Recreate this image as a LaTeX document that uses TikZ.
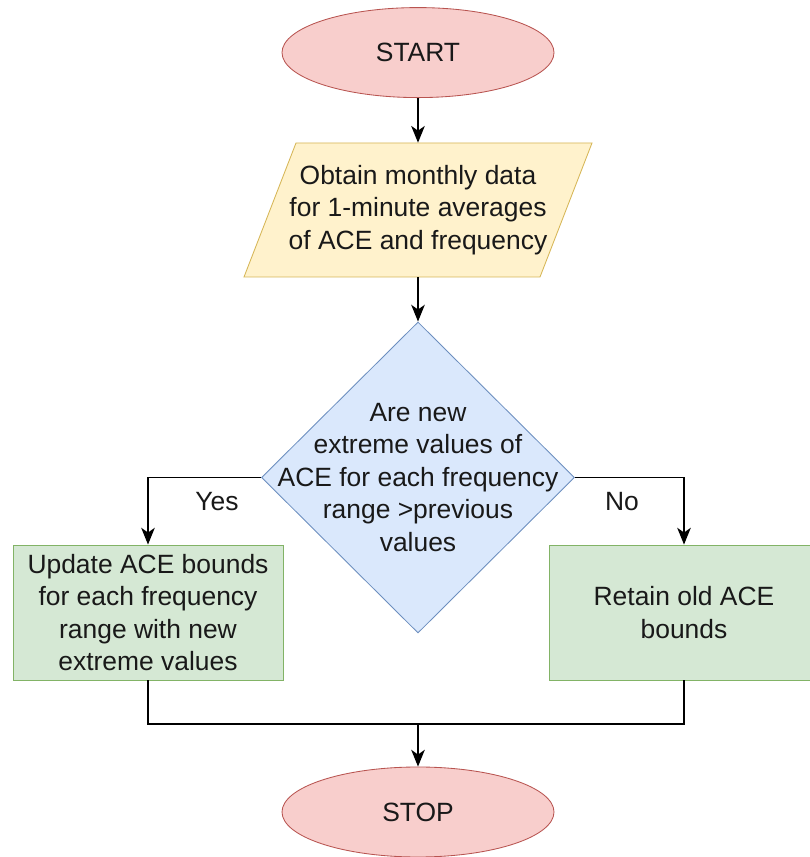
\documentclass[tikz,border=0pt]{standalone}
\usepackage{fontspec}
\setmainfont{Liberation Sans}
\usetikzlibrary{shapes.geometric,arrows.meta}
\definecolor{termfill}{HTML}{F8CECC}
\definecolor{termline}{HTML}{B85450}
\definecolor{iofill}{HTML}{FFF2CC}
\definecolor{ioline}{HTML}{D6B656}
\definecolor{askfill}{HTML}{DAE8FC}
\definecolor{askline}{HTML}{6C8EBF}
\definecolor{procfill}{HTML}{D5E8D4}
\definecolor{procline}{HTML}{82B366}

\begin{document}
\begin{tikzpicture}[
  font=\fontsize{18.8}{23.1}\selectfont,
  txt/.style={text=black!90, align=center},
  terminal/.style={ellipse, draw=termline, fill=termfill, line width=0.6pt,
    minimum width=6.8cm, minimum height=2.25cm, inner sep=0pt, txt},
  process/.style={rectangle, draw=procline, fill=procfill, line width=0.6pt,
    minimum width=6.75cm, minimum height=3.375cm, inner sep=0pt, txt},
  flow/.style={line width=1pt, -{Stealth[length=0.42cm,width=0.34cm,inset=0.12cm]}},
  link/.style={line width=1pt}
]
\useasboundingbox[fill=white] (0,0) rectangle (20.225,21.425);

\node[terminal] (start) at (10.45,20.11) {START};

% input step
\draw[draw=ioline, fill=iofill, line width=0.6pt] (7.4,17.85) -- (14.8,17.85) -- (13.5,14.5) -- (6.1,14.5) -- cycle;
\node[txt, minimum width=7.4cm, minimum height=3.35cm, inner sep=0pt] (obtain) at (10.45,16.175)
  {Obtain monthly data\\for 1-minute averages\\of ACE and frequency};

% decision
\node[diamond, draw=askline, fill=askfill, line width=0.6pt, minimum width=7.825cm,
  minimum height=7.775cm, inner sep=0pt] (ask) at (10.45,9.4875) {};
\node[txt] (asktext) at (ask.center)
  {Are new\\extreme values of\\ACE for each frequency\\range >previous\\values};

\node[process] (update) at (3.7,6.1125) {Update ACE bounds\\for each frequency\\range with new\\extreme values};
\node[process] (retain) at (17.1,6.1125) {Retain old ACE\\bounds};

\node[terminal] (stop) at (10.45,1.125) {STOP};

\draw[flow] (start) -- (obtain);
\draw[flow] (obtain) -- (ask);
\draw[flow] (ask.west) -| (update.north);
\draw[flow] (ask.east) -| (retain.north);
\node[txt] (yes) at (5.425,8.875) {Yes};
\node[txt] (no) at (15.55,8.875) {No};

\coordinate (merge) at (10.45,3.325);
\draw[link] (update.south) |- (merge) -| (retain.south);
\draw[flow] (merge) -- (stop);
\end{tikzpicture}
\end{document}
